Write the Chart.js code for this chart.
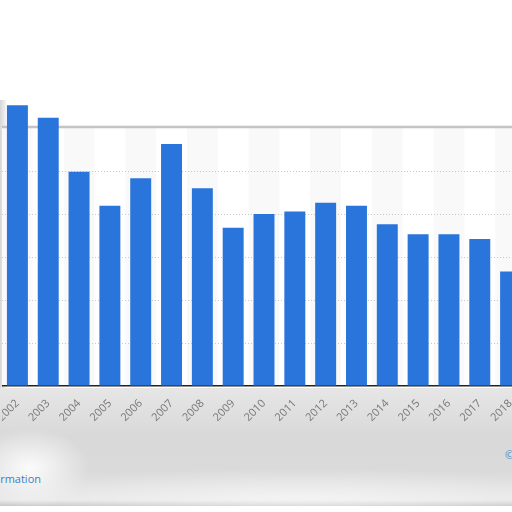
<!DOCTYPE html>
<html>
<head>
<meta charset="utf-8">
<script src="https://cdn.jsdelivr.net/npm/chart.js@4"></script>
<style>
html,body{margin:0;padding:0;width:512px;height:512px;overflow:hidden;background:#fff;font-family:"Open Sans",sans-serif;}
#bottom{position:absolute;left:0;top:388px;width:512px;height:118px;
 background:
  radial-gradient(ellipse 60px 40px at 30px 80px, rgba(255,255,255,0.9), rgba(255,255,255,0)),
  radial-gradient(ellipse 300px 30px at 300px 110px, rgba(255,255,255,0.5), rgba(255,255,255,0)),
  linear-gradient(180deg,#e6e6e6 0%,#d9d9d9 40%,#dadada 70%,#e8e8e8 95%,#c8c8c8 100%);}
#leftstrip{position:absolute;left:0;top:100px;width:6px;height:288px;
 background:linear-gradient(90deg,#d6d6d6,#f4f4f4);}
#wrap{position:absolute;left:2px;top:0;width:524px;height:512px;}
#info{position:absolute;right:471px;top:471px;font-size:11px;color:#3d7fc0;white-space:nowrap;}
#copy{position:absolute;left:505px;top:447px;font-size:11px;color:#4a86c0;white-space:nowrap;}
</style>
</head>
<body>
<div id="bottom"></div>
<div id="leftstrip"></div>
<div id="info">Additional Information</div>
<div id="copy">© Statista 2019</div>
<div id="wrap"><canvas id="c"></canvas></div>
<script>
const years = ["2002","2003","2004","2005","2006","2007","2008","2009","2010","2011","2012","2013","2014","2015","2016","2017","2018"];
const values = [6.53,6.24,4.98,4.19,4.83,5.63,4.60,3.68,4.00,4.06,4.26,4.19,3.76,3.53,3.53,3.42,2.66];
const yMax = 6;

const framePlugin = {
  id: 'frame',
  beforeDraw(chart) {
    const {ctx, scales:{x, y}} = chart;
    const top = y.getPixelForValue(yMax), bottom = y.getPixelForValue(0);
    ctx.save();
    ctx.fillStyle = '#f9f9f9';
    years.forEach((yr, i) => {
      if (parseInt(yr) % 2 === 0) {
        const c = x.getPixelForValue(i);
        const w = x.getPixelForValue(1) - x.getPixelForValue(0);
        ctx.fillRect(c - w/2, top, w, bottom - top);
      }
    });
    ctx.restore();
  },
  beforeDatasetsDraw(chart) {
    const {ctx, chartArea, scales:{y}} = chart;
    const top = y.getPixelForValue(yMax);
    ctx.save();
    ctx.strokeStyle = '#c4c4c4';
    ctx.lineWidth = 2.5;
    ctx.beginPath();
    ctx.moveTo(-2, top - 1);
    ctx.lineTo(chartArea.right, top - 1);
    ctx.stroke();
    ctx.restore();
  }
};

new Chart(document.getElementById('c'), {
  type: 'bar',
  data: {
    labels: years,
    datasets: [{
      data: values,
      backgroundColor: '#2a75db',
      borderWidth: 0,
      barPercentage: 0.68,
      categoryPercentage: 1.0,
      clip: false
    }]
  },
  options: {
    responsive: true,
    maintainAspectRatio: false,
    animation: false,
    layout: { padding: { top: 128, left: 0, right: 0, bottom: 0 } },
    plugins: { legend: { display: false }, tooltip: { enabled: false } },
    scales: {
      x: {
        grid: { display: false, drawTicks: false },
        border: { display: true, color: '#222', width: 1.5 },
        ticks: {
          color: '#777777',
          font: { family: 'Open Sans', size: 11 },
          minRotation: 45, maxRotation: 45,
          padding: 11,
          autoSkip: false
        },
        afterFit(s) { s.height = 126; s.paddingLeft = 0; s.paddingRight = 0; }
      },
      y: {
        min: 0, max: yMax,
        ticks: { display: false, stepSize: 1 },
        border: { display: false, dash: [1,2] },
        grid: {
          drawTicks: false,
          color: (ctx) => (ctx.tick && (ctx.tick.value === 0 || ctx.tick.value === yMax)) ? 'rgba(0,0,0,0)' : '#c8c8c8',
          lineWidth: 1
        },
        afterFit(s) { s.width = 0; }
      }
    }
  },
  plugins: [framePlugin]
});
</script>
</body>
</html>
